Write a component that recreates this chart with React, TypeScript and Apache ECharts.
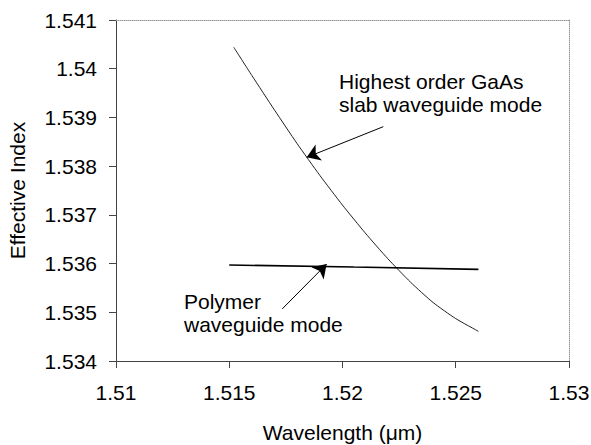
import React, { useEffect, useRef } from "react";
import * as echarts from "echarts";

const gaasWavelength = [1.5152, 1.516, 1.517, 1.518, 1.519, 1.52, 1.521, 1.522, 1.523, 1.524, 1.525, 1.526];
const gaasIndex = [1.54044, 1.53986, 1.53915, 1.53846, 1.53781, 1.5372, 1.53663, 1.5361, 1.53562, 1.5352, 1.53487, 1.53461];
const polymerWavelength = [1.515, 1.5205, 1.526];
const polymerIndex = [1.53597, 1.53593, 1.53588];

const xTicks = { min: 1.51, max: 1.53, interval: 0.005 };
const yTicks = { min: 1.534, max: 1.541, interval: 0.001 };

const gaasArrow = [[1.5218, 1.53881], [1.51842, 1.53818]];
const polymerArrow = [[1.51734, 1.53507], [1.5193, 1.53599]];

const gaasLabel = ["Highest order GaAs", "slab waveguide mode"];
const polymerLabel = ["Polymer", "waveguide mode"];

const FONT = "'Liberation Sans', Arial, sans-serif";

const fmt = (v: number) => parseFloat(v.toFixed(4)).toString();

export default function App() {
  const ref = useRef<HTMLDivElement>(null);
  useEffect(() => {
    if (!ref.current) return;
    const chart = echarts.init(ref.current, undefined, { renderer: "svg" });
    const textStyle = { fontFamily: FONT, fontSize: 21, color: "#000" };
    chart.setOption({
      animation: false,
      backgroundColor: "#fff",
      grid: { left: 116, right: 22, top: 20, bottom: 84, outerBoundsMode: "none", containLabel: false },
      xAxis: [
        {
          type: "value",
          min: xTicks.min,
          max: xTicks.max,
          interval: xTicks.interval,
          name: "Wavelength (\u03bcm)",
          nameLocation: "middle",
          nameGap: 61,
          nameTextStyle: { ...textStyle },
          axisLine: { show: true, lineStyle: { color: "#444", width: 1 } },
          axisTick: { show: true, inside: false, length: 7, lineStyle: { color: "#444" } },
          axisLabel: { ...textStyle, margin: 21, formatter: fmt },
          splitLine: { show: false },
        },
        {
          type: "value",
          position: "top",
          min: xTicks.min,
          max: xTicks.max,
          axisLine: { show: true, lineStyle: { color: "#999", width: 1, type: "dotted" } },
          axisTick: { show: false },
          axisLabel: { show: false },
          splitLine: { show: false },
        },
      ],
      yAxis: [
        {
          type: "value",
          min: yTicks.min,
          max: yTicks.max,
          interval: yTicks.interval,
          name: "Effective Index",
          nameLocation: "middle",
          nameGap: 88,
          nameRotate: 90,
          nameTextStyle: { ...textStyle },
          axisLine: { show: true, lineStyle: { color: "#444", width: 1 } },
          axisTick: { show: true, inside: false, length: 7, lineStyle: { color: "#444" } },
          axisLabel: { ...textStyle, margin: 19, formatter: fmt },
          splitLine: { show: false },
        },
        {
          type: "value",
          position: "right",
          min: yTicks.min,
          max: yTicks.max,
          axisLine: { show: true, lineStyle: { color: "#999", width: 1, type: "dotted" } },
          axisTick: { show: false },
          axisLabel: { show: false },
          splitLine: { show: false },
        },
      ],
      series: [
        {
          type: "line",
          name: "GaAs",
          data: gaasWavelength.map((x, i) => [x, gaasIndex[i]]),
          smooth: 0.2,
          showSymbol: false,
          lineStyle: { color: "#222", width: 1 },
          markLine: {
            silent: true,
            symbol: ["none", "arrow"],
            symbolSize: 13,
            lineStyle: { color: "#000", width: 1, type: "solid" },
            label: { show: false },
            data: [[{ coord: gaasArrow[0] }, { coord: gaasArrow[1] }]],
          },
        },
        {
          type: "line",
          name: "Polymer",
          data: polymerWavelength.map((x, i) => [x, polymerIndex[i]]),
          smooth: true,
          showSymbol: false,
          lineStyle: { color: "#000", width: 1.6 },
          markLine: {
            silent: true,
            symbol: ["none", "arrow"],
            symbolSize: 13,
            lineStyle: { color: "#000", width: 1, type: "solid" },
            label: { show: false },
            data: [[{ coord: polymerArrow[0] }, { coord: polymerArrow[1] }]],
          },
        },
      ],
      graphic: [
        {
          type: "text",
          left: 339,
          top: 70,
          style: { text: gaasLabel.join("\n"), font: `21px ${FONT}`, fill: "#000", lineHeight: 23 },
        },
        {
          type: "text",
          left: 184,
          top: 290,
          style: { text: polymerLabel.join("\n"), font: `21px ${FONT}`, fill: "#000", lineHeight: 23 },
        },
      ],
    });
    return () => chart.dispose();
  }, []);
  return (
    <div
      ref={ref}
      style={{ position: "fixed", left: 0, top: 0, width: 591, height: 445, background: "#fff" }}
    />
  );
}
